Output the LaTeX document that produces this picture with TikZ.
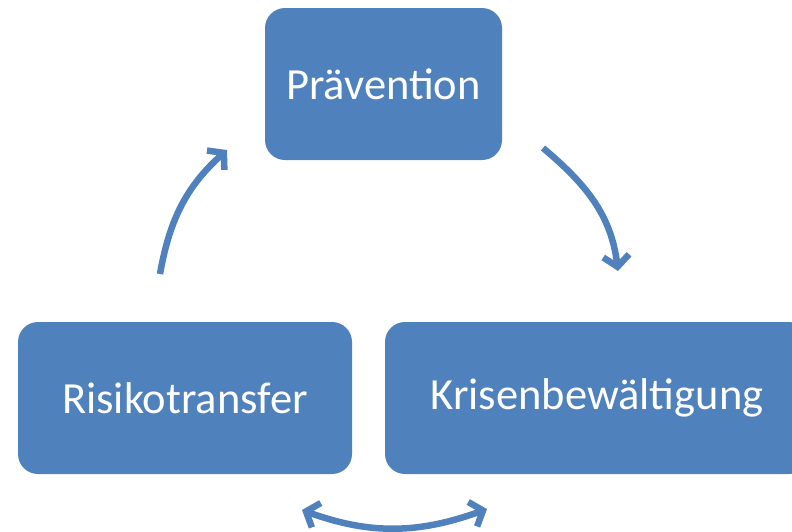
\documentclass[tikz,border=0pt]{standalone}
\usepackage{fontspec}
\setmainfont{Carlito}
\usetikzlibrary{arrows.meta}
\definecolor{boxblue}{RGB}{79,129,189}
\begin{document}
\begin{tikzpicture}[x=1pt,y=-1pt,
  box/.style={fill=boxblue, rounded corners=20pt, inner sep=0pt, text=white,
    font=\fontsize{44.5}{52}\selectfont},
  tip/.style={Straight Barb[length=11pt,width=26pt,line width=6.5pt]},
  cyc/.style={draw=boxblue, line width=6.5pt, -{Straight Barb[length=11pt,width=26pt,line width=6.5pt]}},
  cycboth/.style={draw=boxblue, line width=6.5pt,
    {Straight Barb[length=11pt,width=26pt,line width=6.5pt]}-{Straight Barb[length=11pt,width=26pt,line width=6.5pt]}}
]
\useasboundingbox (0,0) rectangle (792,531);
\clip (0,0) rectangle (792,531);
\node[box, minimum width=237pt, minimum height=152pt] (prae) at (383.5,84) {Prävention};
\node[box, minimum width=334pt, minimum height=152pt] (risk) at (185,398) {Risikotransfer};
\node[box, minimum width=424pt, minimum height=152pt] (kris) at (597,398) {Krisenbewältigung};
\coordinate (a1s) at (543,148);
\coordinate (a1e) at (618,271);
\coordinate (a2s) at (160,274);
\coordinate (a2e) at (227,150);
\coordinate (a3s) at (302,510);
\coordinate (a3e) at (487,509);
\draw[cyc] (a1s) to[out=-40, in=97] (a1e);
\draw[cyc] (a2s) to[out=80, in=-138] (a2e);
\draw[cycboth] (a3s) to[out=-20, in=-160] (a3e);
\end{tikzpicture}
\end{document}
